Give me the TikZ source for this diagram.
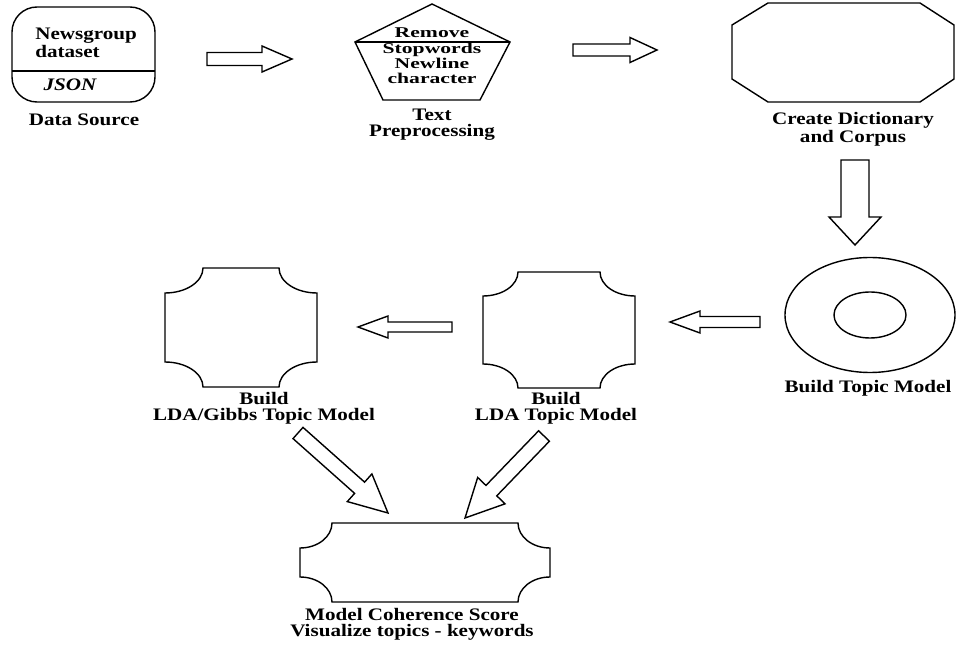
\documentclass[tikz,border=0pt]{standalone}
\usepackage{fontspec}
\setmainfont{Liberation Serif}[FakeStretch=1.2]
\newfontfamily\widefont{Liberation Serif}[FakeStretch=1.45]
\usetikzlibrary{calc}

\tikzset{
  lbl/.style={font=\fontsize{10}{9}\selectfont\bfseries, align=center, inner sep=0pt},
  fat/.style={thick, fill=white, line join=miter},
}

% block arrow: tail, tip, shaft half width, head half width, head length
\newcommand{\fatarrow}[5]{%
  \draw[fat] let \p1=($(#2)-(#1)$), \n1={atan2(\y1,\x1)} in
    ($(#1)+({\n1+90}:#3)$) -- ($(#2)+({\n1+180}:#5)+({\n1+90}:#3)$)
    -- ($(#2)+({\n1+180}:#5)+({\n1+90}:#4)$) -- (#2)
    -- ($(#2)+({\n1+180}:#5)+({\n1-90}:#4)$)
    -- ($(#2)+({\n1+180}:#5)+({\n1-90}:#3)$) -- ($(#1)+({\n1-90}:#3)$) -- cycle;}

% box with hollow corners: x0, y0 (top left), x1, y1 (bottom right), rx, ry
\newcommand{\hollowbox}[6]{%
  \draw[thick] (#1+#5,#2) -- (#3-#5,#2)
    arc[start angle=180, end angle=270, x radius=#5, y radius=#6] -- (#3,#4+#6)
    arc[start angle=90, end angle=180, x radius=#5, y radius=#6] -- (#1+#5,#4)
    arc[start angle=0, end angle=90, x radius=#5, y radius=#6] -- (#1,#2-#6)
    arc[start angle=270, end angle=360, x radius=#5, y radius=#6] -- cycle;}

\begin{document}
\begin{tikzpicture}[x=0.02cm, y=0.02cm]
    \useasboundingbox (0,0) rectangle (957,-648);

    %Data source
    \draw[thick, rounded corners=0.5cm] (12,-7) rectangle (155,-102);
    \draw[thick] (12,-71) -- (155,-71);
    \node[lbl, align=left, anchor=west] (news) at (35,-43) {Newsgroup\\dataset};
    \node[lbl, font=\fontsize{10}{9}\selectfont\bfseries\itshape] (json) at (70,-85) {JSON};
    \node[lbl] (srclbl) at (84,-120) {Data Source};

    %Pentagon
    \draw[thick] (432,-4) -- (510,-42) -- (480,-100) -- (383,-100) -- (355,-42) -- cycle;
    \draw[thick] (355,-42) -- (510,-42);
    \node[lbl, font=\widefont\fontsize{8.5}{8.7}\selectfont\bfseries] (steps) at (432,-56)
        {Remove\\Stopwords\\Newline\\character};
    \node[lbl] (prelbl) at (432,-125) {Text\\Preprocessing};

    %Octagon
    \draw[thick] (768,-3) -- (920,-3) -- (954,-25) -- (954,-79) -- (920,-102)
        -- (768,-102) -- (732,-79) -- (732,-25) -- cycle;
    \node[lbl] (dictlbl) at (853,-129) {Create Dictionary\\and Corpus};

    %Ring
    \draw[thick] (870,-315) ellipse[x radius=85, y radius=57.5];
    \draw[thick] (870,-315) ellipse[x radius=36, y radius=23];
    \node[lbl] (topiclbl) at (868,-388) {Build Topic Model};

    %Hollow boxes
    \hollowbox{483}{-272}{635}{-388}{35}{24}
    \node[lbl] (ldalbl) at (556,-408) {Build\\LDA Topic Model};
    \hollowbox{165}{-268}{317}{-387}{38}{25}
    \node[lbl] (gibbslbl) at (264,-408) {Build\\LDA/Gibbs Topic Model};
    \hollowbox{300}{-523}{550}{-602}{32}{25}
    \node[lbl] (scorelbl) at (412,-624) {Model Coherence Score\\Visualize topics - keywords};

    %Arrow ends
    \coordinate (a1s) at (207,-59);  \coordinate (a1e) at (292,-59);
    \coordinate (a2s) at (573,-50);  \coordinate (a2e) at (657,-50);
    \coordinate (a3s) at (855,-160); \coordinate (a3e) at (855,-245);
    \coordinate (a4s) at (760,-322); \coordinate (a4e) at (670,-322);
    \coordinate (a5s) at (452,-327); \coordinate (a5e) at (358,-327);
    \coordinate (a6s) at (298,-433); \coordinate (a6e) at (388,-513);
    \coordinate (a7s) at (544,-436); \coordinate (a7e) at (465,-518);

    %Arrows
    \fatarrow{a1s}{a1e}{6.5}{13}{30}
    \fatarrow{a2s}{a2e}{6}{12.5}{27}
    \fatarrow{a3s}{a3e}{14}{26}{28}
    \fatarrow{a4s}{a4e}{5.5}{11}{30}
    \fatarrow{a5s}{a5e}{5}{11}{30}
    \fatarrow{a6s}{a6e}{7.5}{18.5}{38}
    \fatarrow{a7s}{a7e}{7.5}{19}{38}
\end{tikzpicture}
\end{document}
